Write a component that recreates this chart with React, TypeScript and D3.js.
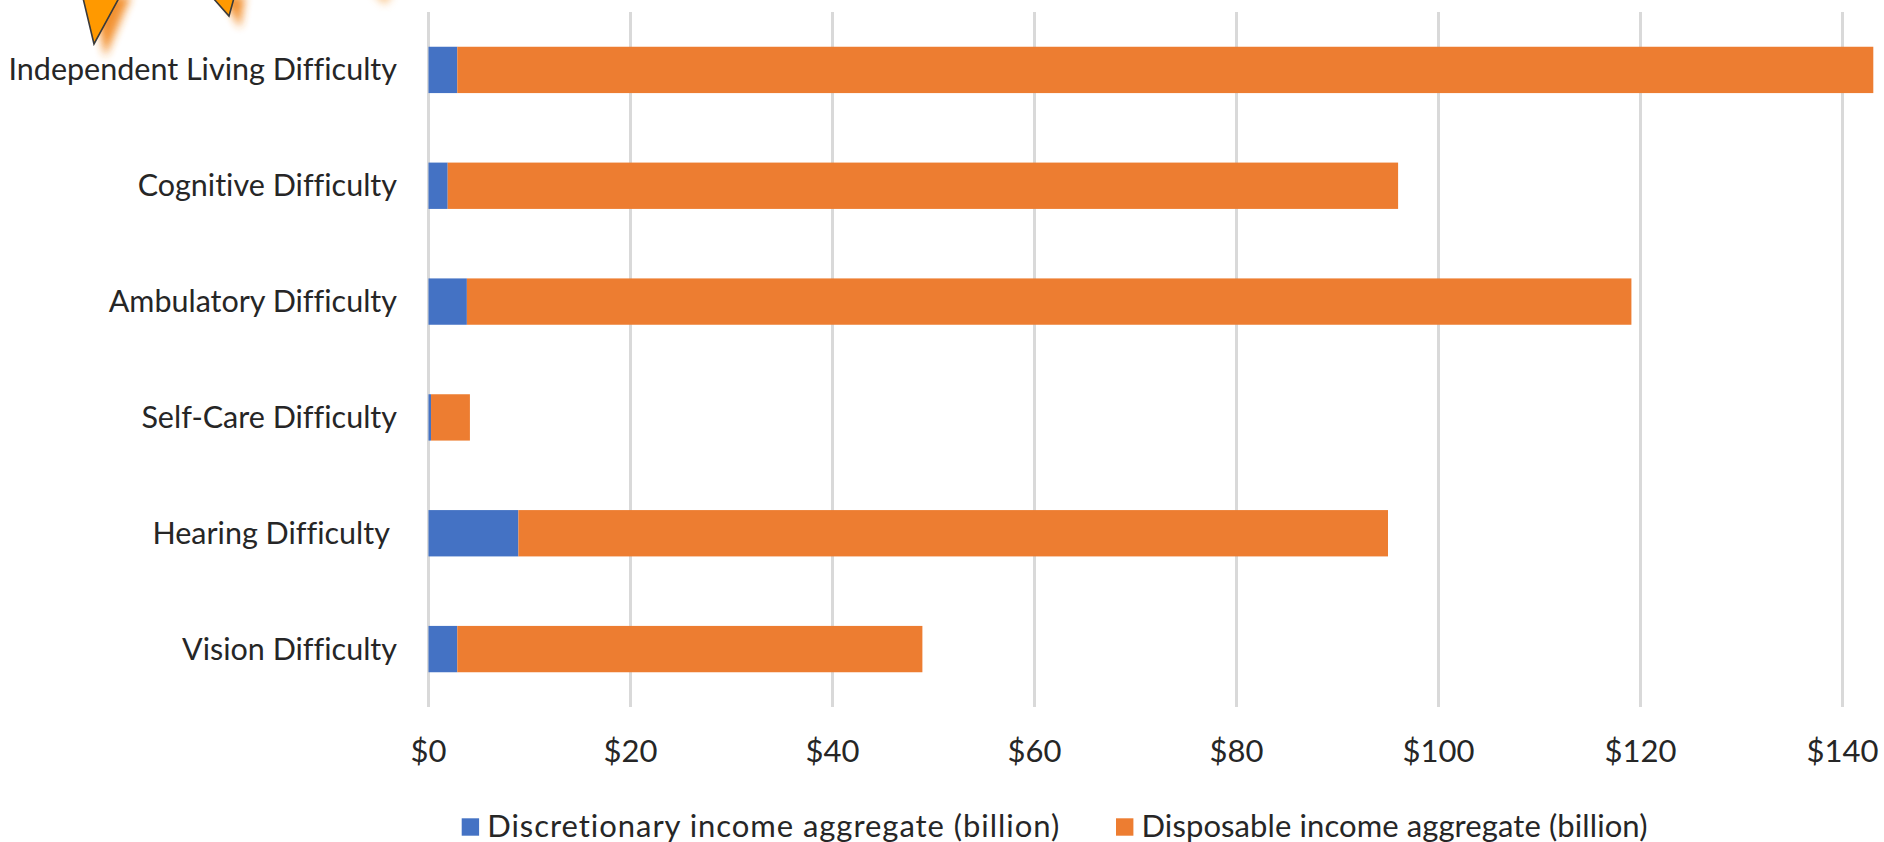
import React from 'react';
import * as d3 from 'd3';

const categories = [
  'Independent Living Difficulty',
  'Cognitive Difficulty',
  'Ambulatory Difficulty',
  'Self-Care Difficulty',
  'Hearing Difficulty ',
  'Vision Difficulty',
];
const discretionary = [2.85, 1.9, 3.8, 0.25, 8.9, 2.85];
const disposable = [140.2, 94.1, 115.3, 3.85, 86.1, 46.05];
const xTicks = [0, 20, 40, 60, 80, 100, 120, 140];
const seriesKeys = ['discretionary', 'disposable'];
const seriesNames = ['Discretionary income aggregate (billion)', 'Disposable income aggregate (billion)'];
const seriesColors = ['#4472C4', '#ED7D31'];

const W = 1884;
const H = 842;
const FONT = 'Lato, "Open Sans", sans-serif';
const TEXT = '#262626';
const textStyle: React.CSSProperties = { whiteSpace: 'pre', fontVariantLigatures: 'none', fontFeatureSettings: '"liga" 0, "clig" 0' };

export default function App() {
  const rows = categories.map((c, i) => ({ cat: c, discretionary: discretionary[i], disposable: disposable[i] }));
  const stacked = d3.stack<any>().keys(seriesKeys)(rows);

  const x = d3.scaleLinear().domain([0, 140]).range([428.5, 1842.5]);
  const y = d3.scaleBand<string>().domain(categories).range([12, 707]).paddingInner(0.6).paddingOuter(0.3);

  const legendX = [461.7, 1116];
  const legendTextLen = [572, 506];

  return (
    <svg width={W} height={H} style={{ position: 'absolute', left: 0, top: 0, background: '#fff' }}>
      <defs>
        <filter id="blur" x="-50%" y="-50%" width="200%" height="200%">
          <feGaussianBlur stdDeviation="4" />
        </filter>
      </defs>
      <rect width={W} height={H} fill="#fff" />
      {/* decorative arrow shapes */}
      <g>
        <polygon points="93,-4 131,-4 105,57" fill="#F28C28" opacity={0.95} filter="url(#blur)" />
        <polygon points="83,-2 119,-2 94,44" fill="#FF9900" stroke="#3a3a3a" strokeWidth={1.6} />
        <polygon points="222,-4 245,-4 240,28" fill="#F28C28" opacity={0.95} filter="url(#blur)" />
        <polygon points="213,-2 234,-2 229,16" fill="#FF9900" stroke="#3a3a3a" strokeWidth={1.6} />
        <polygon points="372,-8 394,-8 385,5" fill="#F5A040" opacity={0.6} filter="url(#blur)" />
      </g>
      {/* gridlines */}
      {xTicks.map((t) => (
        <line key={t} x1={x(t)} x2={x(t)} y1={12} y2={707} stroke="#D9D9D9" strokeWidth={3} />
      ))}
      {/* bars */}
      {stacked.map((s, si) => (
        <g key={s.key} fill={seriesColors[si]}>
          {s.map((d, i) => (
            <rect
              key={i}
              x={x(d[0])}
              y={y(categories[i])}
              width={Math.max(0, x(d[1]) - x(d[0]))}
              height={y.bandwidth()}
            />
          ))}
        </g>
      ))}
      {/* category labels */}
      {categories.map((c) => (
        <text
          key={c}
          x={397}
          y={(y(c) as number) + y.bandwidth() / 2 + 10.5}
          textAnchor="end"
          fontFamily={FONT}
          fontSize={30.5}
          fill={TEXT}
          style={textStyle}
        >
          {c}
        </text>
      ))}
      {/* x tick labels */}
      {xTicks.map((t) => (
        <text key={t} x={x(t)} y={762} textAnchor="middle" fontFamily={FONT} fontSize={31} fill={TEXT} style={textStyle}>
          {'$' + d3.format('d')(t)}
        </text>
      ))}
      {/* legend */}
      {seriesNames.map((n, i) => (
        <g key={n}>
          <rect x={legendX[i]} y={818.3} width={17.4} height={17.4} fill={seriesColors[i]} />
          <text
            x={legendX[i] + 25.5}
            y={836.5}
            fontFamily={FONT}
            fontSize={31}
            fill={TEXT}
            style={textStyle}
            textLength={legendTextLen[i]}
            lengthAdjust="spacing"
          >
            {n}
          </text>
        </g>
      ))}
    </svg>
  );
}
